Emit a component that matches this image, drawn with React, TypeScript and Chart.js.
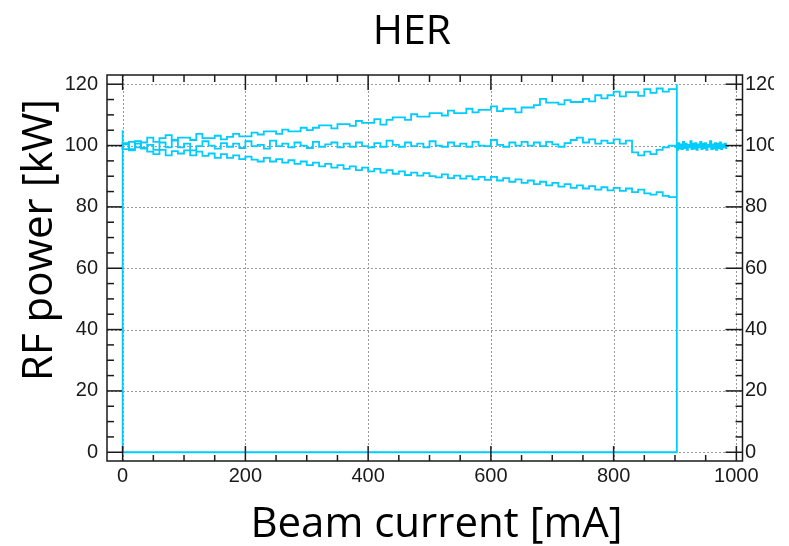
import { useEffect, useRef } from "react";
import { Chart, registerables } from "chart.js";

Chart.register(...registerables);

// ---- data ----
const currents = [
  0, 10, 20, 30, 40, 50, 60, 70, 80, 90,
  100, 110, 120, 130, 140, 150, 160, 170, 180, 190,
  200, 210, 220, 230, 240, 250, 260, 270, 280, 290,
  300, 310, 320, 330, 340, 350, 360, 370, 380, 390,
  400, 410, 420, 430, 440, 450, 460, 470, 480, 490,
  500, 510, 520, 530, 540, 550, 560, 570, 580, 590,
  600, 610, 620, 630, 640, 650, 660, 670, 680, 690,
  700, 710, 720, 730, 740, 750, 760, 770, 780, 790,
  800, 810, 820, 830, 840, 850, 860, 870, 880, 890,
  900, 903,
];

const upperPower = [
  100.5, 98.8, 101.2, 99.4, 101, 102.6, 101.2, 102.4, 103.4, 101.8,
  102.6, 102.6, 101.8, 103.8, 102.4, 102.4, 103.2, 102, 102.8, 103.8,
  103, 103, 104.2, 103.6, 104.6, 104.6, 103.8, 105.2, 104.6, 104.6,
  105.8, 105, 105.8, 106.6, 106.6, 105.6, 107, 107, 106.4, 108,
  107.4, 107.4, 108.6, 106.8, 108.4, 109.2, 109.2, 108.4, 110.2, 109.4,
  109.4, 110.6, 110.6, 109.8, 111.4, 110.6, 110.6, 112, 110.8, 111.6,
  111.6, 112.8, 111.2, 112, 112, 110.8, 112.4, 112.4, 113.2, 115.2,
  114, 114, 113.4, 114.8, 114.2, 114.2, 115.2, 114.4, 116.4, 115.4,
  116.4, 117.6, 116, 117.4, 117.4, 116.2, 118.4, 117.2, 118.6, 117.6,
  118.4, 118.4,
];

const middlePower = [
  99, 100.8, 98.4, 101.4, 99.2, 100.2, 98.6, 101, 99.4, 101.6,
  99.4, 100.6, 98.4, 99.8, 101.4, 100, 99, 100.8, 99.6, 100.6,
  99.2, 101.4, 99.8, 100.2, 99, 101.6, 99.8, 100.6, 99.4, 101,
  100, 99.2, 101.2, 99.6, 100.4, 101, 99.4, 100.6, 99.6, 101,
  99.8, 99.4, 100.8, 99.6, 101.6, 100.2, 99.6, 101, 99.8, 100.6,
  99.4, 101.4, 100, 99.6, 101, 99.8, 100.6, 99.6, 101.2, 100,
  99.8, 101.8, 100.2, 99.6, 101, 100, 101.2, 100, 101, 99.8,
  101.2, 100.4, 99.6, 100.8, 101.8, 102.6, 101, 102, 100.6, 101.6,
  100.8, 102, 100.6, 101.6, 97.8, 96.8, 98, 97.2, 98.6, 99.4,
  100, 99.6,
];

const lowerPower = [
  99.6, 100.4, 98.8, 100.6, 99, 98, 97.2, 98.6, 96.8, 98.2,
  97.4, 98.4, 96.8, 98, 96.6, 97.4, 96, 97.2, 96, 96.8,
  95.6, 96.4, 95.4, 94.8, 96, 94.8, 95.6, 94.4, 95.2, 94,
  94.8, 93.6, 94.4, 93.2, 94, 92.8, 93.6, 92.4, 93.2, 92,
  92.8, 91.6, 92.4, 91.2, 92, 90.8, 91.6, 90.4, 91.2, 90.2,
  91, 90, 89.6, 90.6, 89.4, 90.2, 89.2, 90, 89, 89.8,
  88.8, 89.8, 88.6, 89.4, 88.2, 89, 87.8, 88.6, 87.4, 88.2,
  87, 87.8, 86.6, 87.4, 86.2, 87, 86, 86.8, 85.6, 86.4,
  85.4, 86.2, 85.2, 86, 84.8, 85.6, 84.4, 84, 84.8, 83.6,
  83.2, 83.2,
];

const tailCurrents = [
  903, 905, 907, 909, 911, 913, 915, 917, 919, 921,
  923, 925, 927, 929, 931, 933, 935, 937, 939, 941,
  943, 945, 947, 949, 951, 953, 955, 957, 959, 961,
  963, 965, 967, 969, 971, 973, 975, 977, 979, 981,
  983, 985,
];
const tailPower = [
  99.6, 98.6, 100.8, 99, 100.4, 98.8, 101.2, 99.2, 100.6, 98.6,
  100.2, 99.4, 101.4, 98.8, 100.6, 99, 100.8, 98.6, 100.4, 99.4,
  101.2, 98.8, 100.6, 99.2, 100.8, 98.6, 100.2, 99.6, 101.4, 98.8,
  100.4, 99, 100.8, 98.6, 100.6, 99.2, 101, 98.8, 100.4, 99.4,
  100.6, 99.2,
];

// outline: rise at 0 mA, zero baseline, and the drop at ~903 mA
const outlineCurrents = [0, 0, 903, 903];
const outlinePower = [105, 0, 0, 120];

const xTicks = [0, 200, 400, 600, 800, 1000];
const xMinorTicks = [
  50, 100, 150, 250, 300, 350, 450, 500, 550, 650, 700, 750, 850, 900, 950,
];
const yTicks = [0, 20, 40, 60, 80, 100, 120];
const yMinorTicks = [
  5, 10, 15, 25, 30, 35, 45, 50, 55, 65, 70, 75, 85, 90, 95, 105, 110, 115,
];

const titleText = "HER";
const xTitle = "Beam current [mA]";
const yTitle = "RF power [kW]";

const CYAN = "rgb(0, 204, 255)";
const TITLE_FONT = '"Open Sans", "Noto Sans", sans-serif';
const TICK_FONT = '"Liberation Sans", Arial, sans-serif';

const X_MIN = -25.5;
const X_MAX = 1010;
const Y_MIN = -2.85;
const Y_MAX = 123;

const rootFrame = {
  id: "rootFrame",
  beforeDatasetsDraw(chart: any) {
    const { ctx, chartArea: a, scales } = chart;
    const xs = scales.x;
    const ys = scales.y;
    ctx.save();
    ctx.strokeStyle = "#9a9a9a";
    ctx.lineWidth = 1;
    ctx.setLineDash([2, 2]);
    for (const v of xTicks) {
      const px = Math.round(xs.getPixelForValue(v)) + 0.5;
      ctx.beginPath();
      ctx.moveTo(px, a.top);
      ctx.lineTo(px, a.bottom);
      ctx.stroke();
    }
    for (const v of yTicks) {
      const py = Math.round(ys.getPixelForValue(v)) + 0.5;
      ctx.beginPath();
      ctx.moveTo(a.left, py);
      ctx.lineTo(a.right, py);
      ctx.stroke();
    }
    ctx.restore();
  },
  afterDatasetsDraw(chart: any) {
    const { ctx, chartArea: a, scales } = chart;
    const xs = scales.x;
    const ys = scales.y;
    ctx.save();
    ctx.strokeStyle = "#1a1a1a";
    ctx.lineWidth = 1.5;
    ctx.setLineDash([]);
    ctx.strokeRect(a.left, a.top, a.right - a.left, a.bottom - a.top);
    const seg = (x1: number, y1: number, x2: number, y2: number) => {
      ctx.beginPath();
      ctx.moveTo(x1, y1);
      ctx.lineTo(x2, y2);
      ctx.stroke();
    };
    const MAJ = 15;
    const MIN_Y = 7;
    const MIN_X = 6;
    for (const v of xTicks) {
      const px = xs.getPixelForValue(v);
      seg(px, a.bottom, px, a.bottom - MAJ);
      seg(px, a.top, px, a.top + MAJ);
    }
    for (const v of xMinorTicks) {
      const px = xs.getPixelForValue(v);
      seg(px, a.bottom, px, a.bottom - MIN_X);
      seg(px, a.top, px, a.top + MIN_Y);
    }
    for (const v of yTicks) {
      const py = ys.getPixelForValue(v);
      seg(a.left, py, a.left + MAJ, py);
      seg(a.right, py, a.right - MAJ - 2, py);
    }
    for (const v of yMinorTicks) {
      const py = ys.getPixelForValue(v);
      seg(a.left, py, a.left + MIN_Y, py);
      seg(a.right, py, a.right - MIN_Y, py);
    }
    ctx.restore();
  },
  afterDraw(chart: any) {
    const { ctx } = chart;
    ctx.save();
    ctx.fillStyle = "#000";
    ctx.font = `41px ${TITLE_FONT}`;
    ctx.textAlign = "center";
    ctx.textBaseline = "alphabetic";
    ctx.fillText(titleText, 412, 44);
    ctx.font = `42px ${TITLE_FONT}`;
    ctx.fillText(xTitle, 436.5, 537);
    ctx.translate(52, 240);
    ctx.rotate(-Math.PI / 2);
    ctx.fillText(yTitle, 0, 0);
    ctx.restore();
  },
};

const toPoints = (xsArr: number[], ysArr: number[]) =>
  xsArr.map((x, i) => ({ x, y: ysArr[i] }));

export default function App() {
  const canvasRef = useRef<HTMLCanvasElement | null>(null);

  useEffect(() => {
    if (!canvasRef.current) return;
    const lineStyle = {
      borderColor: CYAN,
      backgroundColor: CYAN,
      borderWidth: 1.8,
      pointRadius: 0,
      fill: false,
      tension: 0,
    };
    const tickFont = { family: TICK_FONT, size: 20 };
    const chart = new Chart(canvasRef.current, {
      type: "line",
      data: {
        datasets: [
          { ...lineStyle, data: toPoints(outlineCurrents, outlinePower) },
          { ...lineStyle, stepped: "after", data: toPoints(currents, upperPower) },
          { ...lineStyle, stepped: "after", data: toPoints(currents, middlePower) },
          { ...lineStyle, stepped: "after", data: toPoints(currents, lowerPower) },
          { ...lineStyle, stepped: "after", data: toPoints(tailCurrents, tailPower) },
        ] as any,
      },
      options: {
        responsive: false,
        animation: false,
        events: [],
        layout: { padding: { top: 75, left: 0, right: 0, bottom: 0 } },
        plugins: {
          legend: { display: false },
          title: { display: false },
          tooltip: { enabled: false },
        },
        scales: {
          x: {
            type: "linear",
            position: "bottom",
            min: X_MIN,
            max: X_MAX,
            grid: { display: false, drawTicks: false },
            border: { display: false },
            afterBuildTicks: (s: any) => {
              s.ticks = xTicks.map((v) => ({ value: v }));
            },
            afterFit: (s: any) => {
              s.height = 85;
            },
            ticks: {
              font: tickFont,
              color: "#1a1a1a",
              padding: 3,
              maxRotation: 0,
              autoSkip: false,
              callback: (v: any) => String(v),
            },
          },
          y: {
            type: "linear",
            position: "left",
            min: Y_MIN,
            max: Y_MAX,
            grid: { display: false, drawTicks: false },
            border: { display: false },
            afterBuildTicks: (s: any) => {
              s.ticks = yTicks.map((v) => ({ value: v }));
            },
            afterFit: (s: any) => {
              s.width = 107;
            },
            ticks: {
              font: tickFont,
              color: "#1a1a1a",
              padding: 9,
              autoSkip: false,
              callback: (v: any) => String(v),
            },
          },
          y2: {
            type: "linear",
            position: "right",
            min: Y_MIN,
            max: Y_MAX,
            grid: { display: false, drawTicks: false },
            border: { display: false },
            afterBuildTicks: (s: any) => {
              s.ticks = yTicks.map((v) => ({ value: v }));
            },
            afterFit: (s: any) => {
              s.width = 46.5;
            },
            ticks: {
              font: tickFont,
              color: "#1a1a1a",
              padding: 2.5,
              autoSkip: false,
              callback: (v: any) => String(v),
            },
          },
        },
      },
      plugins: [rootFrame],
    });
    return () => chart.destroy();
  }, []);

  return (
    <div
      style={{
        position: "absolute",
        left: 0,
        top: 0,
        width: 774,
        height: 546,
        overflow: "hidden",
        background: "#fff",
      }}
    >
      <canvas
        ref={canvasRef}
        width={789}
        height={546}
        style={{ width: 789, height: 546, display: "block" }}
      />
    </div>
  );
}
